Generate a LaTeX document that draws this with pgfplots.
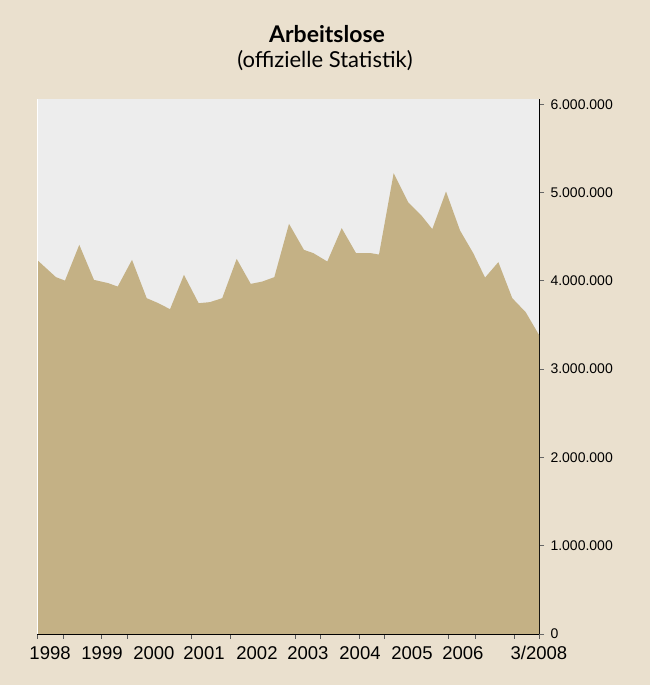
\documentclass[border=0pt]{standalone}
\usepackage{pgfplots}
\pgfplotsset{compat=1.18}
\usepackage{fontspec}
\setmainfont{Liberation Sans}
\newfontfamily\titlefont{Lato}
\definecolor{bgbeige}{RGB}{234,224,206}
\definecolor{plotgray}{RGB}{237,237,237}
\definecolor{tanfill}{RGB}{196,177,133}
\pgfplotstableread{
x y
0.00 4238000
1.51 4042000
2.23 4003000
3.37 4408000
4.54 4011000
5.68 3974000
6.43 3935000
7.57 4238000
8.74 3804000
9.67 3747000
10.60 3679000
11.71 4068000
12.88 3747000
13.78 3759000
14.76 3804000
15.91 4249000
17.03 3966000
17.95 3992000
18.91 4042000
20.08 4646000
21.27 4351000
22.02 4314000
23.13 4219000
24.28 4597000
25.42 4314000
26.59 4314000
27.25 4298000
28.42 5220000
29.59 4887000
30.65 4737000
31.50 4586000
32.59 5012000
33.71 4570000
34.76 4314000
35.70 4037000
36.76 4212000
37.87 3804000
38.94 3645000
40.00 3388000
}\arbeitslose
\begin{document}
\begin{tikzpicture}[x=1pt,y=1pt]
\fill[bgbeige] (0,0) rectangle (650,685);
\useasboundingbox (0,0) rectangle (650,685);
\node[anchor=base,font=\titlefont\bfseries\fontsize{23}{26}\selectfont] at (327,642) {Arbeitslose};
\node[anchor=base,font=\titlefont\fontsize{22}{26}\selectfont] at (325,617) {(offizielle Statistik)};
\begin{axis}[
  at={(37pt,51pt)}, anchor=south west,
  scale only axis, width=502pt, height=535pt,
  xmin=0, xmax=40, ymin=0, ymax=6.06e6,
  axis x line*=bottom, axis y line*=right,
  axis line style={black, line width=0.8pt},
  axis background/.style={fill=plotgray},
  tick align=outside,
  scaled y ticks=false,
  ytick={0,1000000,2000000,3000000,4000000,5000000,6000000},
  yticklabels={0,1.000.000,2.000.000,3.000.000,4.000.000,5.000.000,6.000.000},
  y tick style={black!60, line width=0.8pt},
  y tick label style={anchor=west, font=\fontsize{14}{16}\selectfont, xshift=3pt},
  major tick length=5pt,
  xtick={0,2.07,5.1,7.2,12.3,15.4,20.6,22.6,25.7,27.7,32.8,34.9,38,40},
  xticklabels={,,,,,,,,,,,,,},
  x tick style={black!65, line width=0.8pt},
  extra x ticks={1.04,5.18,9.32,13.31,17.53,21.59,25.74,29.88,33.94,40},
  extra x tick labels={1998,1999,2000,2001,2002,2003,2004,2005,2006,3/2008},
  extra x tick style={major tick length=0pt, tick style={draw=none},
    xticklabel style={font=\fontsize{18.5}{20}\selectfont, anchor=north, yshift=-9pt}},
  clip=false,
]
\addplot[fill=tanfill, draw=none] table[x=x,y=y] {\arbeitslose} \closedcycle;
\draw[white, line width=0.6pt] (rel axis cs:0,0) -- (rel axis cs:0,1);
\end{axis}
\end{tikzpicture}
\end{document}
